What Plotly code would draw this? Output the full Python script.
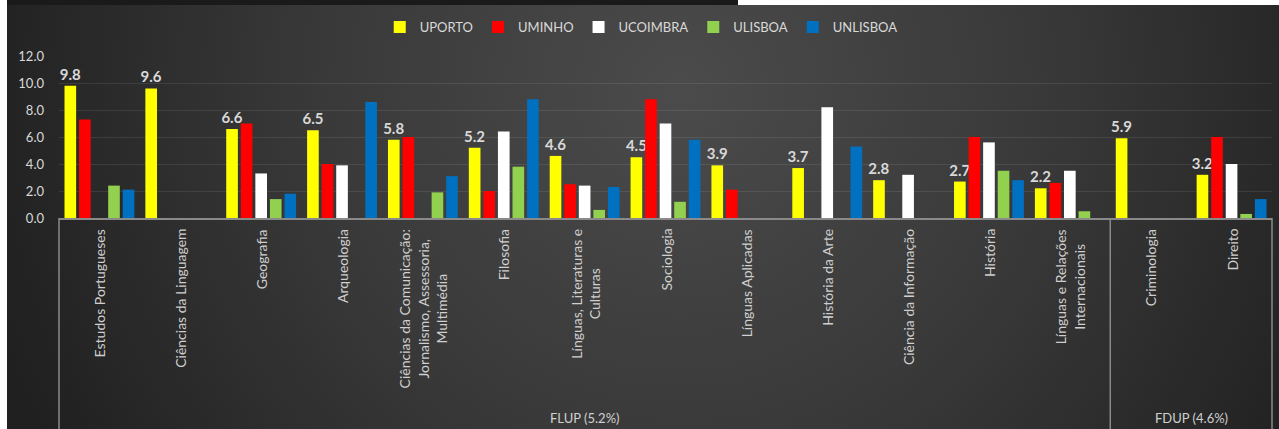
import base64
import plotly.graph_objects as go

categories = [
    "Estudos Portugueses",
    "Ciências da Linguagem",
    "Geografia",
    "Arqueologia",
    "Ciências da Comunicação:<br>Jornalismo, Assessoria,<br>Multimédia",
    "Filosofia",
    "Línguas, Literaturas e<br>Culturas",
    "Sociologia",
    "Línguas Aplicadas",
    "História da Arte",
    "Ciência da Informação",
    "História",
    "Línguas e Relações<br>Internacionais",
    "Criminologia",
    "Direito",
]
groups = ["FLUP (5.2%)", "FDUP (4.6%)"]
group_sizes = [13, 2]

uporto = [9.8, 9.6, 6.6, 6.5, 5.8, 5.2, 4.6, 4.5, 3.9, 3.7, 2.8, 2.7, 2.2, 5.9, 3.2]
uminho = [7.3, 0, 7.0, 4.0, 6.0, 2.0, 2.5, 8.8, 2.1, 0, 0, 6.0, 2.6, 0, 6.0]
ucoimbra = [0, 0, 3.3, 3.9, 0, 6.4, 2.4, 7.0, 0, 8.2, 3.2, 5.6, 3.5, 0, 4.0]
ulisboa = [2.4, 0, 1.4, 0, 1.9, 3.8, 0.6, 1.2, 0, 0, 0, 3.5, 0.5, 0, 0.3]
unlisboa = [2.1, 0, 1.8, 8.6, 3.1, 8.8, 2.3, 5.8, 0, 5.3, 0, 2.8, 0, 0, 1.4]

series_names = ["UPORTO", "UMINHO", "UCOIMBRA", "ULISBOA", "UNLISBOA"]
series_values = [uporto, uminho, ucoimbra, ulisboa, unlisboa]
series_colors = ["#ffff00", "#ff0000", "#ffffff", "#92d050", "#0070c0"]

W, H = 1279, 429
ML, MR, MT, MB = 59, 7, 56, 211
PW, PH = W - ML - MR, H - MT - MB
FONT = "Lato"
TXT = "#d9d9d9"

# background (radial gradient) as an SVG image
svg = f'''<svg xmlns="http://www.w3.org/2000/svg" width="{W}" height="{H}" viewBox="0 0 {W} {H}">
<defs><radialGradient id="g" gradientUnits="userSpaceOnUse" cx="680" cy="90" r="720">
<stop offset="0" stop-color="#4b4b4b"/><stop offset="0.5" stop-color="#393939"/>
<stop offset="1" stop-color="#202020"/></radialGradient></defs>
<rect x="0" y="0" width="{W}" height="{H}" fill="url(#g)"/>
<rect x="7" y="0" width="731" height="5" fill="#1a1a1a"/>
<rect x="738" y="0" width="{W-738}" height="5" fill="#ffffff"/>
<rect x="0" y="0" width="7" height="{H}" fill="#ffffff"/>
</svg>'''
src = "data:image/svg+xml;base64," + base64.b64encode(svg.encode()).decode()

fig = go.Figure()
for i, (name, vals, col) in enumerate(zip(series_names, series_values, series_colors)):
    fig.add_trace(go.Bar(
        name=name, x=categories, y=vals, marker=dict(color=col, line=dict(width=0)),
        text=[f"{v:.1f}" for v in vals] if i == 0 else None,
        textposition="outside" if i == 0 else "none",
        textfont=dict(family=FONT, size=15, color=TXT, weight="bold"),
        constraintext="none",
        cliponaxis=False,
    ))

annotations = []
for c in categories:
    annotations.append(dict(
        x=c, xref="x", y=0, yref="paper", yshift=-9, yanchor="top", xanchor="center",
        text=c, textangle=-90, showarrow=False, align="center",
        font=dict(family=FONT, size=14, color="#cfcfcf"),
    ))

n = len(categories)
shapes = []
bottom = -MB / PH
start = 0
bounds = [0]
for g, s in zip(groups, group_sizes):
    mid = (start + s / 2) / n
    annotations.append(dict(
        x=mid, xref="paper", xanchor="center", y=bottom, yref="paper", yshift=11,
        yanchor="middle", text=g, showarrow=False,
        font=dict(family=FONT, size=13, color="#cfcfcf"),
    ))
    start += s
    bounds.append(start)
for b in bounds:
    shapes.append(dict(type="line", xref="paper", yref="paper", x0=b / n, x1=b / n,
                       y0=0, y1=bottom, line=dict(color="#8a8a8a", width=1.5)))

fig.update_layout(
    width=W, height=H,
    margin=dict(l=ML, r=MR, t=MT, b=MB, pad=0),
    paper_bgcolor="#2c2c2c", plot_bgcolor="rgba(0,0,0,0)",
    images=[dict(source=src, xref="paper", yref="paper", x=-ML / PW, y=1 + MT / PH,
                 sizex=W / PW, sizey=H / PH, sizing="stretch", layer="below",
                 xanchor="left", yanchor="top")],
    barmode="group", bargap=0.10, bargroupgap=0.2,
    showlegend=True,
    legend=dict(orientation="h", x=0.48, xanchor="center", y=1 + (MT - 27) / PH,
                yanchor="middle", bgcolor="rgba(0,0,0,0)",
                font=dict(family=FONT, size=13, color=TXT), itemwidth=30,
                traceorder="normal"),
    xaxis=dict(type="category", showticklabels=False, ticks="", showgrid=False,
               showline=True, linecolor="#8a8a8a", linewidth=1.5, zeroline=False),
    yaxis=dict(range=[0, 12], dtick=2, tickformat=".1f", showgrid=True,
               gridcolor="rgba(255,255,255,0.09)", gridwidth=1, zeroline=False,
               showline=False, ticks="", ticklabelstandoff=14,
               tickfont=dict(family=FONT, size=13, color=TXT)),
    annotations=annotations, shapes=shapes,
    font=dict(family=FONT, color=TXT),
)

fig.write_html("out.html", config={"displayModeBar": False},
               post_script="document.body.style.margin='0';document.body.style.overflow='hidden';")
